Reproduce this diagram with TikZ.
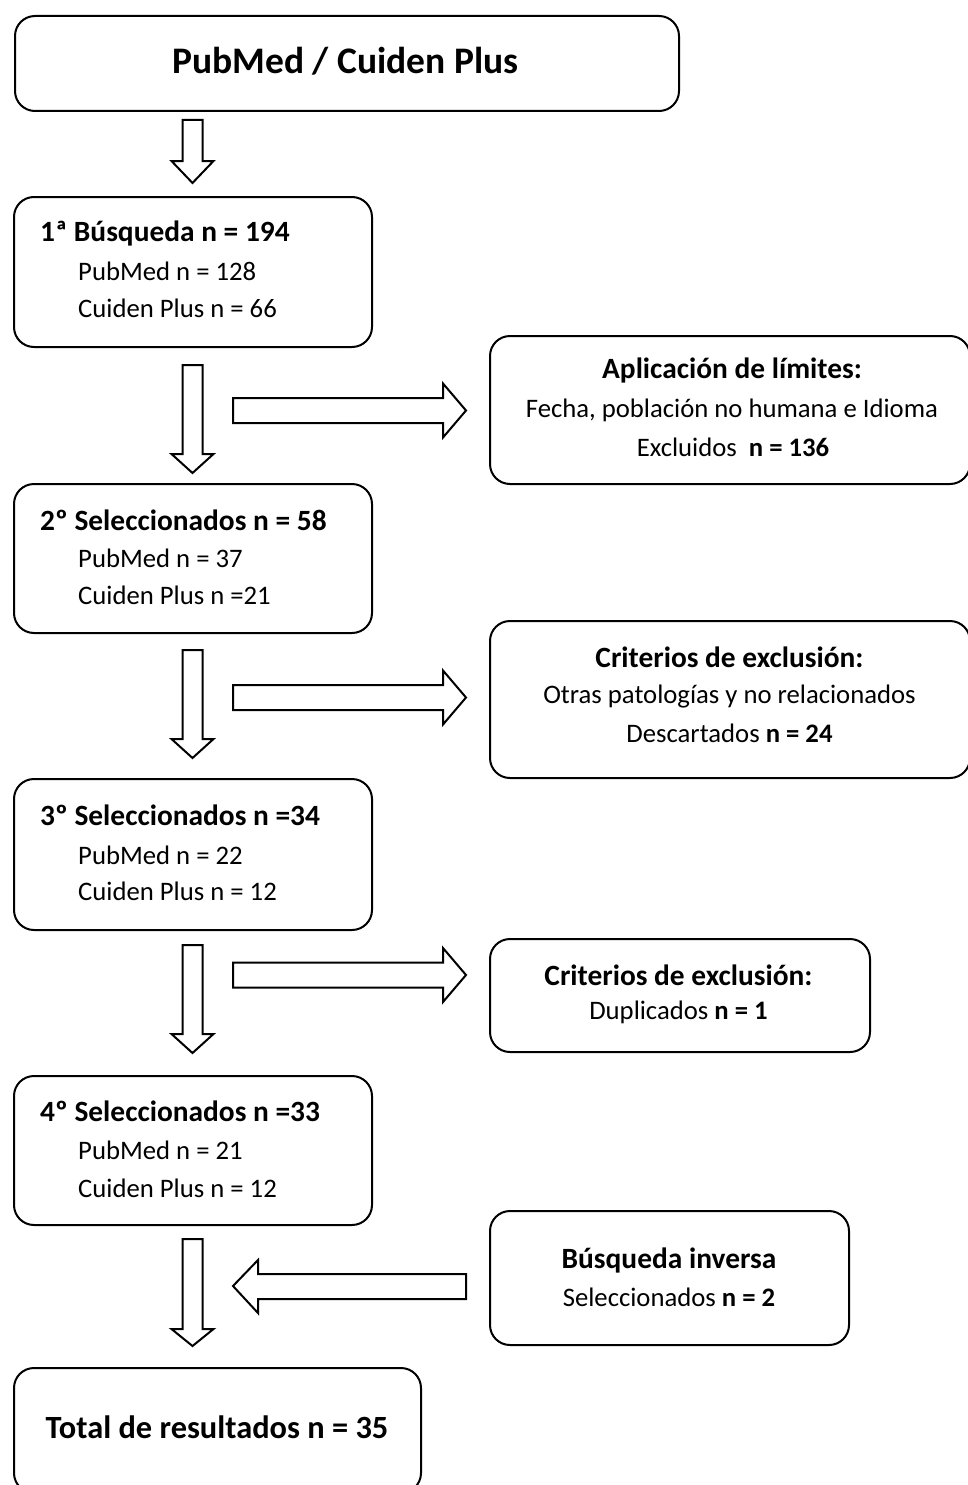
\documentclass[tikz,border=0pt]{standalone}
\usepackage{fontspec}
\setmainfont{Carlito}
\begin{document}
\begin{tikzpicture}[x=1pt,y=-1pt,
  box/.style={draw,line width=2pt,rounded corners=20pt,anchor=north west,inner sep=0pt},
  blk/.style={draw,line width=2pt,fill=white,line join=miter},
  hdr/.style={font=\fontsize{29.4}{34}\selectfont\bfseries,inner sep=0pt},
  txt/.style={font=\fontsize{26.7}{32}\selectfont,inner sep=0pt},
  big/.style={font=\fontsize{37.5}{44}\selectfont\bfseries,inner sep=0pt},
  tot/.style={font=\fontsize{32.4}{40}\selectfont\bfseries,inner sep=0pt}]
\useasboundingbox (0,0) rectangle (967,1485);
\newcommand{\blockdown}[3]{% ytop, yheadbase, ytip
  \draw[blk] (182.5,#1) -- (202.5,#1) -- (202.5,#2) -- (213.5,#2) -- (192.5,#3) -- (171.5,#2) -- (182.5,#2) -- cycle;}
\newcommand{\blockright}[1]{% y center
  \draw[blk] (233,#1-12.5) -- (443,#1-12.5) -- (443,#1-27) -- (466,#1) -- (443,#1+27) -- (443,#1+12.5) -- (233,#1+12.5) -- cycle;}
% boxes
\node[box,minimum width=664pt,minimum height=95pt] (top) at (14,15) {};
\node[box,minimum width=358pt,minimum height=150pt] (b1) at (13,196) {};
\node[box,minimum width=480pt,minimum height=148pt] (lim) at (489,335) {};
\node[box,minimum width=358pt,minimum height=149pt] (b2) at (13,483) {};
\node[box,minimum width=480pt,minimum height=157pt] (ex1) at (489,620) {};
\node[box,minimum width=358pt,minimum height=151pt] (b3) at (13,778) {};
\node[box,minimum width=380pt,minimum height=113pt] (ex2) at (489,938) {};
\node[box,minimum width=358pt,minimum height=149pt] (b4) at (13,1075) {};
\node[box,minimum width=359pt,minimum height=134pt] (inv) at (489,1210) {};
\node[box,minimum width=407pt,minimum height=125pt] (tot) at (13,1367) {};
% texts
\node[big] (ttop) at (345.5,61) {PubMed / Cuiden Plus};
\node[hdr,anchor=west] (h1) at (40,233) {1ª Búsqueda n = 194};
\node[txt,anchor=west] (l1a) at (78,271) {PubMed n = 128};
\node[txt,anchor=west] (l1b) at (78,308) {Cuiden Plus n = 66};
\node[hdr] (hlim) at (732,370) {Aplicación de límites:};
\node[txt] (llima) at (732,410) {Fecha, población no humana e Idioma};
\node[txt] (llimb) at (733,447) {Excluidos\ \ \textbf{n = 136}};
\node[hdr,anchor=west] (h2) at (40,520) {2º Seleccionados n = 58};
\node[txt,anchor=west] (l2a) at (78,558) {PubMed n = 37};
\node[txt,anchor=west] (l2b) at (78,595) {Cuiden Plus n =21};
\node[hdr] (hex1) at (729.5,657) {Criterios de exclusión:};
\node[txt] (lex1a) at (729.5,697) {Otras patologías y no relacionados};
\node[txt] (lex1b) at (729.5,733) {Descartados \textbf{n = 24}};
\node[hdr,anchor=west] (h3) at (40,815) {3º Seleccionados n =34};
\node[txt,anchor=west] (l3a) at (78,855) {PubMed n = 22};
\node[txt,anchor=west] (l3b) at (78,891) {Cuiden Plus n = 12};
\node[hdr] (hex2) at (678.5,975) {Criterios de exclusión:};
\node[txt] (lex2a) at (678.5,1012) {Duplicados \textbf{n = 1}};
\node[hdr,anchor=west] (h4) at (40,1111) {4º Seleccionados n =33};
\node[txt,anchor=west] (l4a) at (78,1150) {PubMed n = 21};
\node[txt,anchor=west] (l4b) at (78,1188) {Cuiden Plus n = 12};
\node[hdr] (hinv) at (669,1260) {Búsqueda inversa};
\node[txt] (linv) at (669,1297) {Seleccionados \textbf{n = 2}};
\node[tot] (ttot) at (217,1427) {Total de resultados n = 35};
% block arrows
\blockdown{120}{161}{183}
\blockdown{365}{454}{473}
\blockdown{650}{739}{758}
\blockdown{945}{1034}{1053}
\blockdown{1239}{1329}{1346}
\blockright{410.5}
\blockright{697.5}
\blockright{975}
\draw[blk] (466,1274) -- (258,1274) -- (258,1260) -- (233,1286) -- (258,1313) -- (258,1299) -- (466,1299) -- cycle;
\end{tikzpicture}
\end{document}
